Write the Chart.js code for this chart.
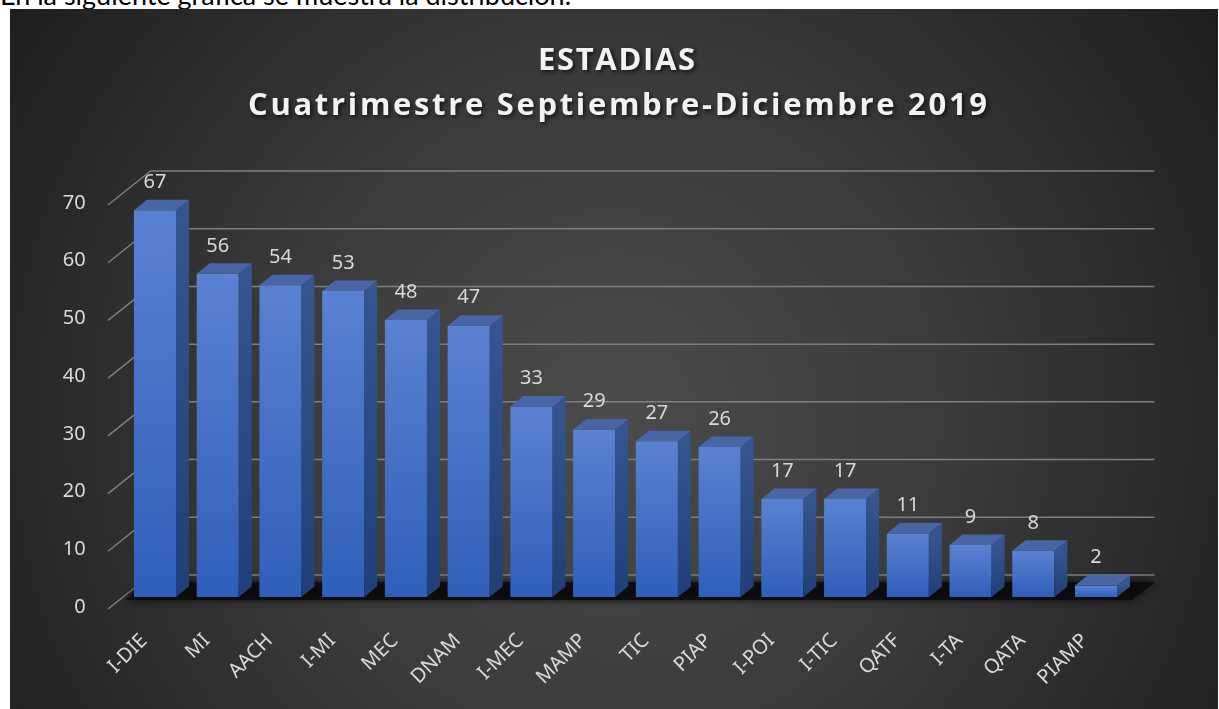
<!DOCTYPE html>
<html>
<head>
<meta charset="utf-8">
<script src="https://cdn.jsdelivr.net/npm/chart.js@4.4.0/dist/chart.umd.min.js"></script>
<style>
  body { margin: 0; background: #fff; width: 1219px; height: 709px; overflow: hidden; position: relative; }
  #intro { position: absolute; left: 0; top: -19px; font: 27px/1 Lato, sans-serif; color: #000; white-space: nowrap; }
  #box {
    position: absolute; left: 10px; top: 9px; width: 1208px; height: 700px;
    background: radial-gradient(circle at 50% 58%, #4b4b4b 0%, #3b3b3b 45%, #1e1e1e 100%);
  }
</style>
</head>
<body>
<div id="intro">En la siguiente gráfica se muestra la distribución.</div>
<div id="box"><canvas id="chart"></canvas></div>
<script>
var categories = ['I-DIE', 'MI', 'AACH', 'I-MI', 'MEC', 'DNAM', 'I-MEC', 'MAMP', 'TIC', 'PIAP', 'I-POI', 'I-TIC', 'QATF', 'I-TA', 'QATA', 'PIAMP'];
var alumnos = [67, 56, 54, 53, 48, 47, 33, 29, 27, 26, 17, 17, 11, 9, 8, 2];
var yTicks = [0, 10, 20, 30, 40, 50, 60, 70];
var titleLines = ['ESTADIAS', 'Cuatrimestre Septiembre-Diciembre 2019'];

// fake 3d offsets (px)
var DEPTH = { dx: 13, dy: -10.5 };   // bar side / top
var WALL = { dx: 27, dy: -22 };      // back wall
var FRONT = { dx: -15.6, dy: 12 };   // axis front edge

var labelFont = '"Noto Sans", sans-serif';

// draws the title with letter spacing fitted to a width
function drawTitleLine(ctx, text, cx, baseline, width) {
  ctx.letterSpacing = '0px';
  var w = ctx.measureText(text).width;
  var sp = (width - w) / (text.length - 1);
  ctx.letterSpacing = sp + 'px';
  ctx.fillText(text, cx - width / 2, baseline);
}

var titlePlugin = {
  id: 'title3d',
  afterDraw: function (chart) {
    var ctx = chart.ctx;
    ctx.save();
    ctx.font = 'bold 31px "Open Sans", sans-serif';
    ctx.fillStyle = '#f2f2f2';
    ctx.textAlign = 'left';
    ctx.textBaseline = 'alphabetic';
    ctx.shadowColor = 'rgba(0,0,0,0.65)';
    ctx.shadowBlur = 4;
    ctx.shadowOffsetX = 2;
    ctx.shadowOffsetY = 2;
    drawTitleLine(ctx, titleLines[0], 606.5, 61, 157);
    drawTitleLine(ctx, titleLines[1], 607.5, 106, 739);
    ctx.restore();
  }
};

var wallPlugin = {
  id: 'wall3d',
  beforeDatasetsDraw: function (chart) {
    var ctx = chart.ctx, ca = chart.chartArea, y = chart.scales.y;
    ctx.save();
    ctx.strokeStyle = '#7f7f7f';
    ctx.lineWidth = 1.5;
    yTicks.forEach(function (v) {
      var py = y.getPixelForValue(v);
      ctx.beginPath();
      ctx.moveTo(ca.left + FRONT.dx, py + FRONT.dy);
      ctx.lineTo(ca.left + WALL.dx, py + WALL.dy);
      ctx.lineTo(ca.right + WALL.dx, py + WALL.dy);
      ctx.stroke();
    });
    // floor shadow under the bars
    ctx.fillStyle = 'rgba(10,10,10,0.85)';
    ctx.shadowColor = 'rgba(0,0,0,0.9)';
    ctx.shadowBlur = 8;
    ctx.beginPath();
    ctx.moveTo(ca.left + 2, ca.bottom + 3);
    ctx.lineTo(ca.right + 4, ca.bottom + 3);
    ctx.lineTo(ca.right + 28, ca.bottom - 15);
    ctx.lineTo(ca.left + 22, ca.bottom - 15);
    ctx.closePath();
    ctx.fill();
    ctx.restore();
  },
  afterDatasetsDraw: function (chart) {
    var ctx = chart.ctx;
    var meta = chart.getDatasetMeta(0);
    ctx.save();
    meta.data.forEach(function (bar, i) {
      var left = bar.x - bar.width / 2, right = bar.x + bar.width / 2;
      // side face
      var g = ctx.createLinearGradient(0, bar.y, 0, bar.base);
      g.addColorStop(0, '#34558f');
      g.addColorStop(1, '#203f79');
      ctx.fillStyle = g;
      ctx.beginPath();
      ctx.moveTo(right, bar.y);
      ctx.lineTo(right + DEPTH.dx, bar.y + DEPTH.dy);
      ctx.lineTo(right + DEPTH.dx, bar.base + DEPTH.dy);
      ctx.lineTo(right, bar.base);
      ctx.closePath();
      ctx.fill();
      // top face
      ctx.fillStyle = '#4866a6';
      ctx.beginPath();
      ctx.moveTo(left, bar.y);
      ctx.lineTo(left + DEPTH.dx, bar.y + DEPTH.dy);
      ctx.lineTo(right + DEPTH.dx, bar.y + DEPTH.dy);
      ctx.lineTo(right, bar.y);
      ctx.closePath();
      ctx.fill();
      // value label
      ctx.fillStyle = '#d9d9d9';
      ctx.font = '20px ' + labelFont;
      ctx.textAlign = 'center';
      ctx.textBaseline = 'middle';
      ctx.fillText(String(alumnos[i]), bar.x, bar.y - 28);
    });
    ctx.restore();
  }
};

var ctx = document.getElementById('chart').getContext('2d');
var chart = new Chart(ctx, {
  type: 'bar',
  data: {
    labels: categories,
    datasets: [{
      label: 'ESTADIAS',
      data: alumnos,
      backgroundColor: function (c) {
        var ca = c.chart.chartArea;
        if (!ca || c.raw === undefined) return '#4a74c9';
        var top = c.chart.scales.y.getPixelForValue(c.raw);
        var g = c.chart.ctx.createLinearGradient(0, top, 0, ca.bottom);
        g.addColorStop(0, '#5b81d1');
        g.addColorStop(1, '#2f5fba');
        return g;
      },
      borderWidth: 0,
      categoryPercentage: 1,
      barPercentage: 0.67
    }]
  },
  options: {
    responsive: true,
    maintainAspectRatio: false,
    animation: false,
    layout: { padding: { top: 184, right: 90.6, bottom: 0, left: 0 } },
    plugins: {
      legend: { display: false },
      title: { display: false },
      tooltip: { enabled: false }
    },
    scales: {
      x: {
        grid: { display: false },
        border: { display: false },
        ticks: {
          color: '#d9d9d9',
          font: { family: labelFont, size: 20 },
          minRotation: 45,
          maxRotation: 45,
          autoSkip: false,
          padding: 24,
          labelOffset: -11
        },
        afterFit: function (s) { s.height = 112; }
      },
      y: {
        min: 0,
        max: 70,
        grid: { display: false },
        border: { display: false },
        ticks: {
          color: '#d9d9d9',
          font: { family: labelFont, size: 20 },
          padding: 30,
          labelOffset: 10
        },
        afterBuildTicks: function (s) {
          s.ticks = yTicks.map(function (v) { return { value: v }; });
        },
        afterFit: function (s) { s.width = 113.6; }
      }
    }
  },
  plugins: [wallPlugin, titlePlugin]
});
</script>
</body>
</html>
